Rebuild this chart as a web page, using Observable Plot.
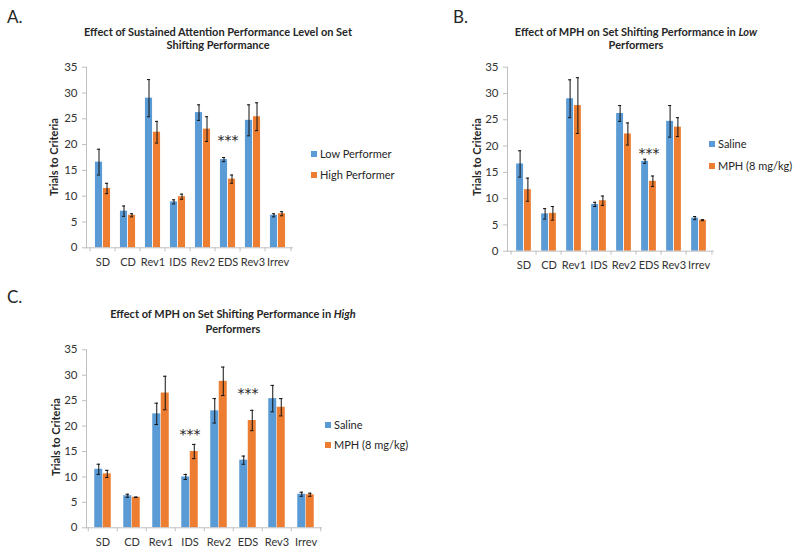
<!DOCTYPE html>
<html>
<head>
<meta charset="utf-8">
<script src="https://cdn.jsdelivr.net/npm/d3@7"></script>
<script src="https://cdn.jsdelivr.net/npm/@observablehq/plot@0.6"></script>
<style>
  html, body { margin: 0; padding: 0; background: #fff; }
  #root { position: relative; width: 800px; height: 554px; font-family: Lato, "Open Sans", sans-serif; color: #262626; overflow: hidden; }
  .abs { position: absolute; }
  .letter { font-size: 17px; line-height: 17px; }
  .title { font-weight: bold; font-size: 11px; text-align: center; width: 400px; white-space: nowrap; }
  .ylab { font-weight: bold; font-size: 11px; white-space: nowrap; transform: translate(-50%, -50%) rotate(-90deg); }
  .leg { font-size: 11px; white-space: nowrap; line-height: 12px; }
  .sw { display: inline-block; width: 6px; height: 6px; margin-right: 3px; vertical-align: 1px; }
</style>
</head>
<body>
<div id="root"></div>
<script>
const categories = ["SD", "CD", "Rev1", "IDS", "Rev2", "EDS", "Rev3", "Irrev"];
const yTicks = [0, 5, 10, 15, 20, 25, 30, 35];

// Panel A: low vs high performers
const lowMean  = [16.6, 7.1, 29.0, 8.9, 26.2, 17.1, 24.7, 6.3];
const lowErr   = [2.5, 1.0, 3.6, 0.4, 1.5, 0.4, 3.0, 0.3];
const highMean = [11.5, 6.3, 22.4, 9.9, 23.0, 13.3, 25.4, 6.6];
const highErr  = [1.0, 0.3, 2.1, 0.5, 2.4, 0.8, 2.7, 0.4];

// Panel B: low performers, saline vs MPH
const lowSalineMean = [16.6, 7.1, 29.0, 8.9, 26.2, 17.1, 24.7, 6.3];
const lowSalineErr  = [2.5, 1.0, 3.6, 0.4, 1.5, 0.4, 3.0, 0.3];
const lowMphMean    = [11.7, 7.2, 27.7, 9.6, 22.3, 13.3, 23.6, 5.9];
const lowMphErr     = [2.2, 1.3, 5.3, 0.9, 2.1, 1.0, 1.8, 0.1];

// Panel C: high performers, saline vs MPH
const highSalineMean = [11.5, 6.3, 22.4, 10.0, 23.0, 13.3, 25.4, 6.6];
const highSalineErr  = [1.0, 0.3, 2.1, 0.5, 2.4, 0.8, 2.6, 0.4];
const highMphMean    = [10.6, 6.0, 26.5, 15.0, 28.8, 21.1, 23.7, 6.5];
const highMphErr     = [0.7, 0.05, 3.3, 1.4, 2.8, 2.0, 1.7, 0.3];

const sigA = [{cat: "EDS", y: 21.5}];
const sigB = [{cat: "EDS", y: 19.3}];
const sigC = [{cat: "IDS", y: 19.1}, {cat: "EDS", y: 27.1}];

const legendA = ["Low Performer", "High Performer"];
const legendBC = ["Saline", "MPH (8 mg/kg)"];

const BLUE = "#5B9BD5";
const ORANGE = "#ED7D31";
const AXIS = "#bfbfbf";
const TEXT = "#333333";

const root = document.getElementById("root");

function panel(o) {
  const data = categories.map((c, i) => ({cat: c, m1: o.s1[i], e1: o.e1[i], m2: o.s2[i], e2: o.e2[i]}));
  const band = (o.w - o.mL - o.mR) / categories.length;
  const half = band / 2;
  const pad = half - o.barW;
  const capW = 4;
  const c1 = half - o.barW / 2;
  const c2 = half + o.barW / 2;
  const chart = Plot.plot({
    width: o.w, height: o.h,
    marginLeft: o.mL, marginRight: o.mR, marginTop: o.mT, marginBottom: o.mB,
    style: {background: "transparent", fontFamily: "Lato, sans-serif", fontSize: "11px", color: TEXT, overflow: "visible"},
    x: {domain: categories, padding: 0, axis: null},
    y: {domain: [0, 35], axis: null},
    marks: [
      Plot.barY(data, {x: "cat", y: "m1", fill: BLUE, insetLeft: pad, insetRight: half}),
      Plot.barY(data, {x: "cat", y: "m2", fill: ORANGE, insetLeft: half, insetRight: pad}),
      Plot.ruleX(data, {x: "cat", y1: d => d.m1 - d.e1, y2: d => d.m1 + d.e1, dx: -o.barW / 2, stroke: "#111", strokeWidth: 1}),
      Plot.ruleX(data, {x: "cat", y1: d => d.m2 - d.e2, y2: d => d.m2 + d.e2, dx: o.barW / 2, stroke: "#111", strokeWidth: 1}),
      Plot.tickY(data, {x: "cat", y: d => d.m1 + d.e1, insetLeft: c1 - capW / 2, insetRight: band - c1 - capW / 2, stroke: "#111"}),
      Plot.tickY(data, {x: "cat", y: d => d.m1 - d.e1, insetLeft: c1 - capW / 2, insetRight: band - c1 - capW / 2, stroke: "#111"}),
      Plot.tickY(data, {x: "cat", y: d => d.m2 + d.e2, insetLeft: c2 - capW / 2, insetRight: band - c2 - capW / 2, stroke: "#111"}),
      Plot.tickY(data, {x: "cat", y: d => d.m2 - d.e2, insetLeft: c2 - capW / 2, insetRight: band - c2 - capW / 2, stroke: "#111"}),
      Plot.ruleY([0], {stroke: AXIS}),
      Plot.frame({anchor: "left", stroke: AXIS}),
      Plot.axisY({ticks: yTicks, tickSize: 4, tickPadding: 5, stroke: AXIS, fill: TEXT, label: null, fontSize: 11.5}),
      Plot.axisX({tickSize: 0, tickPadding: 10, fill: TEXT, label: null, fontSize: 11}),
      Plot.axisX({tickSize: 4, tickFormat: () => "", dx: -half, stroke: AXIS, label: null}),
      Plot.axisX({ticks: [categories[categories.length - 1]], tickSize: 4, tickFormat: () => "", dx: half, stroke: AXIS, label: null}),
      Plot.text(o.sig, {x: "cat", y: "y", text: () => "***", fontSize: 14, fontFamily: "DejaVu Sans", dy: 4, fill: "#222"})
    ]
  });
  chart.style.position = "absolute";
  chart.style.left = o.left + "px";
  chart.style.top = o.top + "px";
  root.appendChild(chart);
}

function addDiv(cls, html, css) {
  const d = document.createElement("div");
  d.className = "abs " + cls;
  d.innerHTML = html;
  Object.assign(d.style, css);
  root.appendChild(d);
  return d;
}

function legend(labels, x, y1, y2) {
  addDiv("leg", `<span class="sw" style="background:${BLUE}"></span>${labels[0]}`, {left: x + "px", top: (y1 - 6) + "px"});
  addDiv("leg", `<span class="sw" style="background:${ORANGE}"></span>${labels[1]}`, {left: x + "px", top: (y2 - 6) + "px"});
}

panel({left: 0, top: 0, w: 400, h: 274, mL: 86, mR: 107, mT: 66.7, mB: 26.7, barW: 8,
  s1: lowMean, e1: lowErr, s2: highMean, e2: highErr, sig: sigA});
panel({left: 400, top: 0, w: 400, h: 274, mL: 107, mR: 86, mT: 66.7, mB: 23.3, barW: 7.8,
  s1: lowSalineMean, e1: lowSalineErr, s2: lowMphMean, e2: lowMphErr, sig: sigB});
panel({left: 0, top: 280, w: 400, h: 274, mL: 86, mR: 78, mT: 69.3, mB: 26.7, barW: 8.5,
  s1: highSalineMean, e1: highSalineErr, s2: highMphMean, e2: highMphErr, sig: sigC});

addDiv("letter", "A.", {left: "7px", top: "8px"});
addDiv("letter", "B.", {left: "453px", top: "8px"});
addDiv("letter", "C.", {left: "7px", top: "288px"});

addDiv("title", "Effect of Sustained Attention Performance Level on Set<br>Shifting Performance", {left: (218 - 200) + "px", top: "25px", lineHeight: "13.3px"});
addDiv("title", "Effect of MPH on Set Shifting Performance in <i>Low</i><br>Performers", {left: (636 - 200) + "px", top: "25px", lineHeight: "13.3px"});
addDiv("title", "Effect of MPH on Set Shifting Performance in <i>High</i><br>Performers", {left: (233 - 200) + "px", top: "306px", lineHeight: "15px"});

addDiv("ylab", "Trials to Criteria", {left: "53px", top: "157px"});
addDiv("ylab", "Trials to Criteria", {left: "476px", top: "157px"});
addDiv("ylab", "Trials to Criteria", {left: "55px", top: "437px"});

legend(legendA, 311, 154, 174.5);
legend(legendBC, 709, 144.3, 165.7);
legend(legendBC, 325, 425, 445);
</script>
</body>
</html>
